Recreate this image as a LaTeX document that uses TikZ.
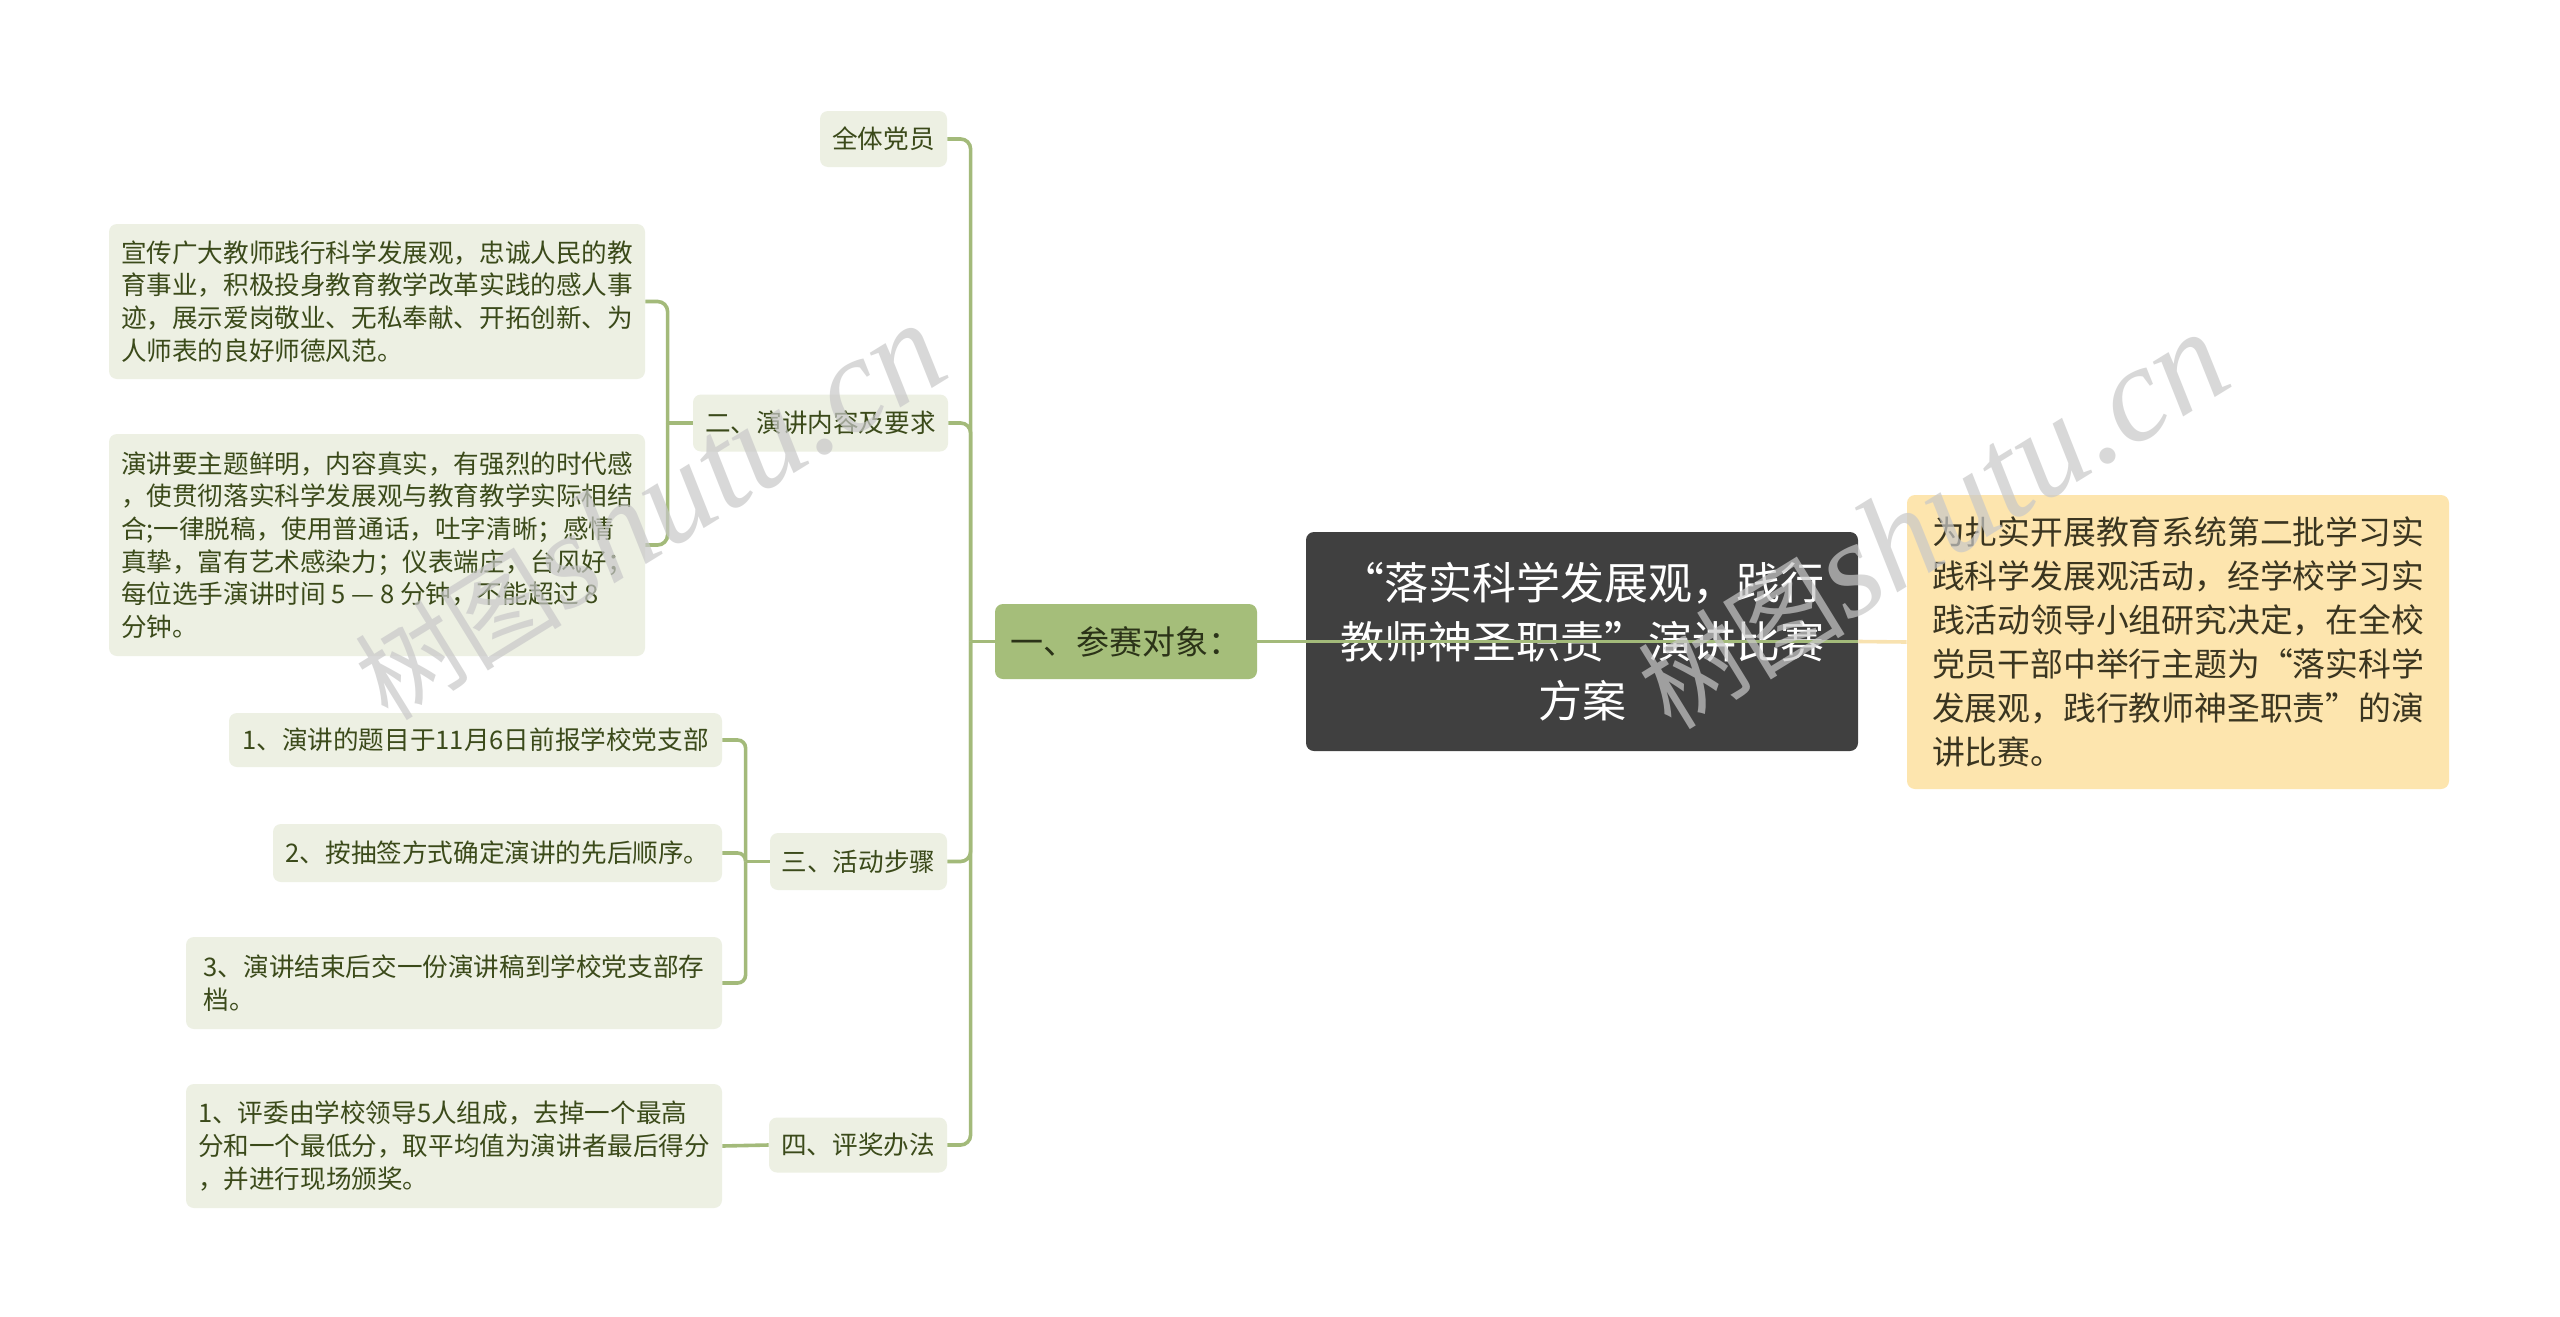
\documentclass[tikz,border=0pt]{standalone}
\usepackage{fontspec}
\setmainfont{Noto Sans CJK SC}
\newfontfamily\wmlatin{Liberation Serif}
\definecolor{subfill}{HTML}{EDF0E3}
\definecolor{subtext}{HTML}{3B4A1A}
\definecolor{linegreen}{HTML}{A3BA7A}
\definecolor{onefill}{HTML}{A5BE7A}
\definecolor{onetext}{HTML}{2B3318}
\definecolor{rootfill}{HTML}{404040}
\definecolor{notefill}{HTML}{FDE5AE}
\definecolor{noteline}{HTML}{F8E2B0}
\definecolor{notetext}{HTML}{3A3520}
\definecolor{wmgray}{HTML}{C8C8C8}
\tikzset{
  sub/.style={fill=subfill, text=subtext, rounded corners=4pt, inner sep=0pt, align=left,
    font=\fontsize{12.8pt}{16.3pt}\selectfont},
  onebox/.style={fill=onefill, text=onetext, rounded corners=4pt, inner sep=0pt, align=left,
    font=\fontsize{16.5pt}{20pt}\selectfont},
  rootbox/.style={fill=rootfill, text=white, rounded corners=4pt, inner sep=0pt, align=center,
    font=\fontsize{22pt}{29.4pt}\selectfont},
  notebox/.style={fill=notefill, text=notetext, rounded corners=4pt, inner sep=0pt, align=left,
    font=\fontsize{16.4pt}{22pt}\selectfont},
  conn/.style={draw=linegreen, line width=1.8pt},
  noteconn/.style={draw=noteline, line width=1.8pt},
  wm/.style={text=wmgray, opacity=0.7, inner sep=0pt}
}
\begin{document}
\begin{tikzpicture}[x=0.5pt, y=-0.5pt]
\useasboundingbox[fill=white] (0,0) rectangle (2560,1317);

% nodes
\node[sub, minimum width=63.5pt, minimum height=28pt] (qt) at (883.5,139) {全体党员};
\node[sub, minimum width=127.5pt, minimum height=28.5pt] (two) at (820.5,423) {二、演讲内容及要求};
\node[sub, minimum width=268pt, minimum height=77.5pt] (t1) at (377,301.5) {宣传广大教师践行科学发展观，忠诚人民的教\\育事业，积极投身教育教学改革实践的感人事\\迹，展示爱岗敬业、无私奉献、开拓创新、为\\人师表的良好师德风范。};
\node[sub, minimum width=268pt, minimum height=111pt] (t2) at (377,545) {演讲要主题鲜明，内容真实，有强烈的时代感\\，使贯彻落实科学发展观与教育教学实际相结\\合;一律脱稿，使用普通话，吐字清晰；感情\\真挚，富有艺术感染力；仪表端庄，台风好；\\每位选手演讲时间 5 — 8 分钟，不能超过 8\\分钟。};
\node[onebox, minimum width=131pt, minimum height=37.5pt] (one) at (1126,641.5) {一、参赛对象：};
\node[rootbox, minimum width=276pt, minimum height=109.5pt] (root) at (1582,641.5) {“落实科学发展观，践行\\教师神圣职责”演讲比赛\\方案};
\node[notebox, minimum width=271pt, minimum height=147pt] (note) at (2178,642) {为扎实开展教育系统第二批学习实\\践科学发展观活动，经学校学习实\\践活动领导小组研究决定，在全校\\党员干部中举行主题为“落实科学\\发展观，践行教师神圣职责”的演\\讲比赛。};
\node[sub, minimum width=246.5pt, minimum height=27pt] (s1) at (475.5,740) {1、演讲的题目于11月6日前报学校党支部};
\node[sub, minimum width=224.5pt, minimum height=29pt] (s2) at (497.5,853) {2、按抽签方式确定演讲的先后顺序。};
\node[sub, minimum width=268pt, minimum height=46pt] (s3) at (454,983) {3、演讲结束后交一份演讲稿到学校党支部存\\档。};
\node[sub, minimum width=88.5pt, minimum height=28.5pt] (three) at (858.5,861.5) {三、活动步骤};
\node[sub, minimum width=268pt, minimum height=62pt] (s4) at (454,1146) {1、评委由学校领导5人组成，去掉一个最高\\分和一个最低分，取平均值为演讲者最后得分\\，并进行现场颁奖。};
\node[sub, minimum width=89pt, minimum height=27.5pt] (four) at (858,1145) {四、评奖办法};

% connectors
\coordinate (tr) at ([xshift=-12pt]one.west);
\draw[conn] (one.west) -- (tr);
\foreach \c in {qt,two,three,four} \draw[conn, rounded corners=5pt] (tr) |- (\c.east);

\coordinate (tr2) at ([xshift=-12.5pt]two.west);
\draw[conn] (two.west) -- (tr2);
\foreach \c in {t1,t2} \draw[conn, rounded corners=5pt] (tr2) |- (\c.east);

\coordinate (tr3) at ([xshift=-12pt]three.west);
\draw[conn] (three.west) -- (tr3);
\foreach \c in {s1,s2,s3} \draw[conn, rounded corners=4pt] (tr3) |- (\c.east);

\draw[conn] (four.west) -- (s4.east);

\draw[conn] (one.east) -- (root.east);
\draw[noteconn] (root.east) -- (note.west);

% watermarks
\node[wm, rotate=31.6] (wm1) at (649,512) {{\fontsize{52pt}{52pt}\selectfont 树图}{\wmlatin\itshape\fontsize{68pt}{68pt}\selectfont shutu.cn}};
\node[wm, rotate=31.6] (wm2) at (1932,521) {{\fontsize{52pt}{52pt}\selectfont 树图}{\wmlatin\itshape\fontsize{68pt}{68pt}\selectfont shutu.cn}};
\end{tikzpicture}
\end{document}
